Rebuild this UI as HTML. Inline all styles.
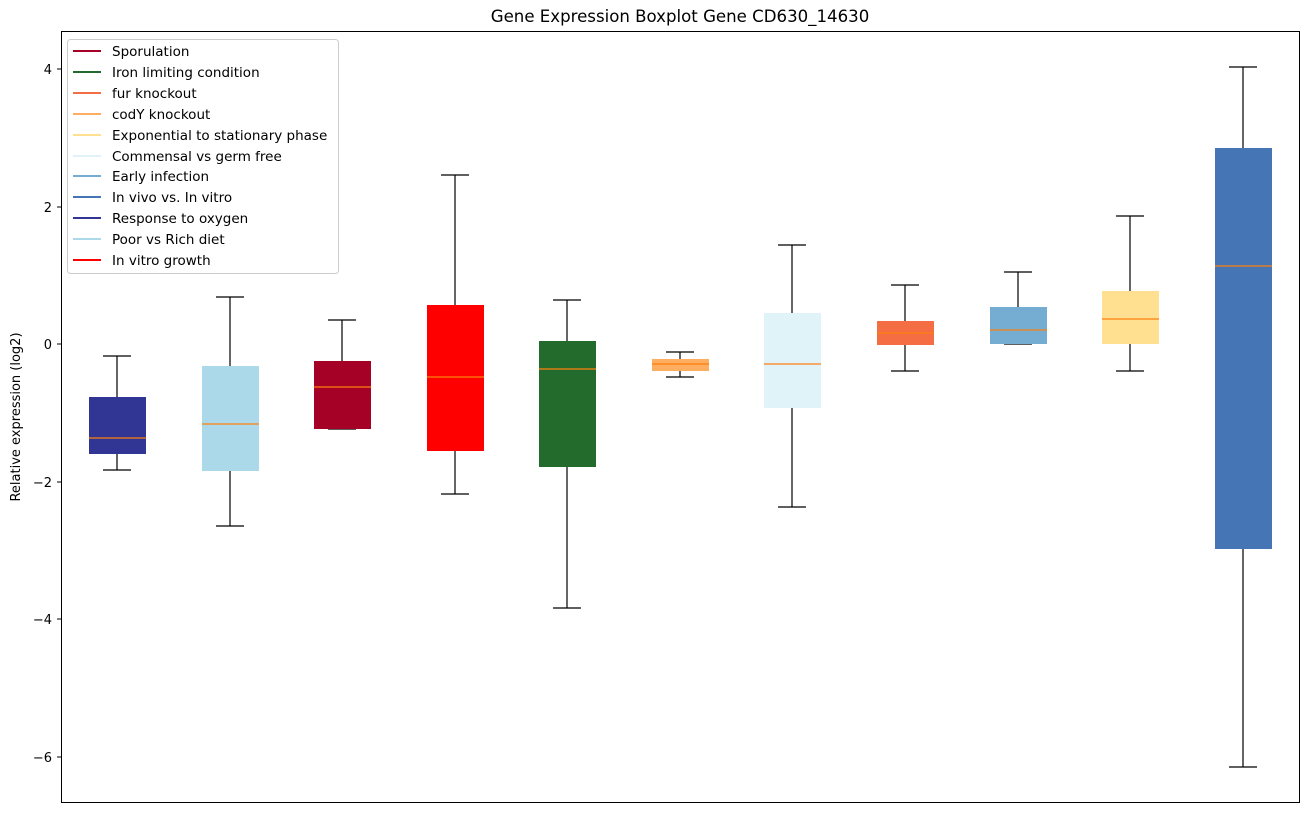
<!DOCTYPE html>
<html><head><meta charset="utf-8"><style>body{margin:0;background:#fff}</style></head><body>
<svg width="1309" height="812" xmlns="http://www.w3.org/2000/svg" font-family="DejaVu Sans, Liberation Sans, sans-serif">
<rect width="1309" height="812" fill="#fff"/>
<text x="680" y="22" font-size="16.6" text-anchor="middle">Gene Expression Boxplot Gene CD630_14630</text>
<g stroke-width="1.2">
<g stroke="#000"><line x1="117" y1="356" x2="117" y2="397"/><line x1="117" y1="454" x2="117" y2="470"/><line x1="103" y1="356" x2="131" y2="356"/><line x1="103" y1="470" x2="131" y2="470"/></g>
<rect x="89" y="397" width="57" height="57" fill="#313695"/><line x1="89" y1="438" x2="146" y2="438" stroke="#ff7f0e"/>

<g stroke="#000"><line x1="230" y1="297" x2="230" y2="366"/><line x1="230" y1="471" x2="230" y2="526"/><line x1="216" y1="297" x2="244" y2="297"/><line x1="216" y1="526" x2="244" y2="526"/></g>
<rect x="202" y="366" width="57" height="105" fill="#abd9e9"/><line x1="202" y1="424" x2="259" y2="424" stroke="#ff7f0e"/>

<g stroke="#000"><line x1="342" y1="320" x2="342" y2="361"/><line x1="328" y1="320" x2="356" y2="320"/><line x1="328" y1="429" x2="356" y2="429"/></g>
<rect x="314" y="361" width="57" height="68" fill="#a50026"/><line x1="314" y1="387" x2="371" y2="387" stroke="#ff7f0e"/>

<g stroke="#000"><line x1="455" y1="175" x2="455" y2="305"/><line x1="455" y1="451" x2="455" y2="494"/><line x1="441" y1="175" x2="469" y2="175"/><line x1="441" y1="494" x2="469" y2="494"/></g>
<rect x="427" y="305" width="57" height="146" fill="#ff0000"/><line x1="427" y1="377" x2="484" y2="377" stroke="#ff7f0e"/>

<g stroke="#000"><line x1="567" y1="300" x2="567" y2="341"/><line x1="567" y1="467" x2="567" y2="608"/><line x1="553" y1="300" x2="581" y2="300"/><line x1="553" y1="608" x2="581" y2="608"/></g>
<rect x="539" y="341" width="57" height="126" fill="#226b2d"/><line x1="539" y1="369" x2="596" y2="369" stroke="#ff7f0e"/>

<g stroke="#000"><line x1="680" y1="352" x2="680" y2="359"/><line x1="680" y1="371" x2="680" y2="377"/><line x1="666" y1="352" x2="694" y2="352"/><line x1="666" y1="377" x2="694" y2="377"/></g>
<rect x="652" y="359" width="57" height="12" fill="#fdae61"/><line x1="652" y1="364" x2="709" y2="364" stroke="#ff7f0e"/>

<g stroke="#000"><line x1="792" y1="245" x2="792" y2="313"/><line x1="792" y1="408" x2="792" y2="507"/><line x1="778" y1="245" x2="806" y2="245"/><line x1="778" y1="507" x2="806" y2="507"/></g>
<rect x="764" y="313" width="57" height="95" fill="#e0f3f8"/><line x1="764" y1="364" x2="821" y2="364" stroke="#ff7f0e"/>

<g stroke="#000"><line x1="905" y1="285" x2="905" y2="321"/><line x1="905" y1="345" x2="905" y2="371"/><line x1="891" y1="285" x2="919" y2="285"/><line x1="891" y1="371" x2="919" y2="371"/></g>
<rect x="877" y="321" width="57" height="24" fill="#f46d43"/><line x1="877" y1="333" x2="934" y2="333" stroke="#ff7f0e"/>

<g stroke="#000"><line x1="1018" y1="272" x2="1018" y2="307"/><line x1="1004" y1="272" x2="1032" y2="272"/><line x1="1004" y1="344" x2="1032" y2="344"/></g>
<rect x="990" y="307" width="57" height="37" fill="#74add1"/><line x1="990" y1="330" x2="1047" y2="330" stroke="#ff7f0e"/>

<g stroke="#000"><line x1="1130" y1="216" x2="1130" y2="291"/><line x1="1130" y1="344" x2="1130" y2="371"/><line x1="1116" y1="216" x2="1144" y2="216"/><line x1="1116" y1="371" x2="1144" y2="371"/></g>
<rect x="1102" y="291" width="57" height="53" fill="#fee090"/><line x1="1102" y1="319" x2="1159" y2="319" stroke="#ff7f0e"/>

<g stroke="#000"><line x1="1243" y1="67" x2="1243" y2="148"/><line x1="1243" y1="549" x2="1243" y2="767"/><line x1="1229" y1="67" x2="1257" y2="67"/><line x1="1229" y1="767" x2="1257" y2="767"/></g>
<rect x="1215" y="148" width="57" height="401" fill="#4575b4"/><line x1="1215" y1="266" x2="1272" y2="266" stroke="#ff7f0e"/>
</g>
<rect x="61.5" y="31.5" width="1238" height="771" fill="none" stroke="#000" stroke-width="1"/>
<g stroke="#000">
<line x1="57" y1="69" x2="61" y2="69"/><line x1="57" y1="207" x2="61" y2="207"/><line x1="57" y1="344" x2="61" y2="344"/><line x1="57" y1="482" x2="61" y2="482"/><line x1="57" y1="619" x2="61" y2="619"/><line x1="57" y1="757" x2="61" y2="757"/>
</g>
<g font-size="13" text-anchor="end" fill="#000">
<text x="52" y="74">4</text><text x="52" y="212">2</text><text x="52" y="349">0</text><text x="52" y="487">−2</text><text x="52" y="624">−4</text><text x="52" y="762">−6</text>
</g>
<text transform="translate(20,417) rotate(-90)" font-size="13" text-anchor="middle">Relative expression (log2)</text>
<rect x="67.5" y="39.5" width="271" height="234" rx="3" fill="#fff" fill-opacity="0.8" stroke="#ccc"/>
<g font-size="13.5" stroke-width="2">
<line x1="73" y1="51" x2="101" y2="51" stroke="#a50026"/><text x="112" y="56">Sporulation</text>
<line x1="73" y1="72" x2="101" y2="72" stroke="#226b2d"/><text x="112" y="77">Iron limiting condition</text>
<line x1="73" y1="93" x2="101" y2="93" stroke="#f46d43"/><text x="112" y="98">fur knockout</text>
<line x1="73" y1="114" x2="101" y2="114" stroke="#fdae61"/><text x="112" y="119">codY knockout</text>
<line x1="73" y1="135" x2="101" y2="135" stroke="#fee090"/><text x="112" y="140">Exponential to stationary phase</text>
<line x1="73" y1="156" x2="101" y2="156" stroke="#e0f3f8"/><text x="112" y="161">Commensal vs germ free</text>
<line x1="73" y1="176" x2="101" y2="176" stroke="#74add1"/><text x="112" y="181">Early infection</text>
<line x1="73" y1="197" x2="101" y2="197" stroke="#4575b4"/><text x="112" y="202">In vivo vs. In vitro</text>
<line x1="73" y1="218" x2="101" y2="218" stroke="#313695"/><text x="112" y="223">Response to oxygen</text>
<line x1="73" y1="239" x2="101" y2="239" stroke="#abd9e9"/><text x="112" y="244">Poor vs Rich diet</text>
<line x1="73" y1="260" x2="101" y2="260" stroke="#ff0000"/><text x="112" y="265">In vitro growth</text>
</g>
</svg>
</body></html>
